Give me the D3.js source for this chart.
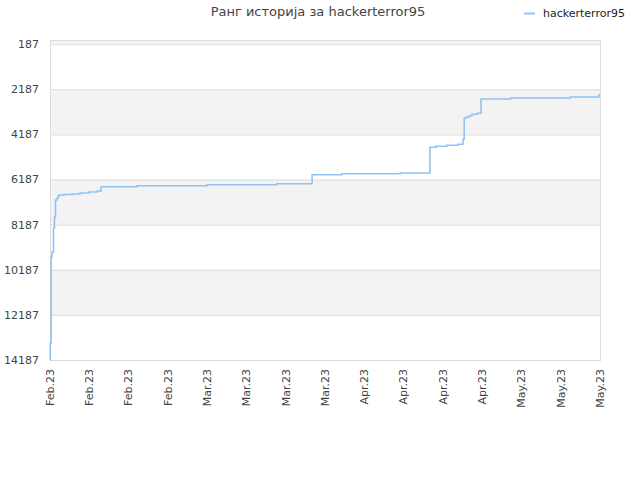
<!DOCTYPE html>
<html lang="en">
<head>
  <meta charset="UTF-8">
  <style>
    html, body { margin: 0; padding: 0; background: #fff; }
    svg { display: block; font-family: "DejaVu Sans", sans-serif; }
    .title { font-size: 13px; fill: #444; text-anchor: middle; }
    .legend-text { font-size: 11px; fill: #222; }
    .y-label { font-size: 11px; fill: #444; text-anchor: end; }
    .x-label { font-size: 11px; fill: #444; text-anchor: end; }
  </style>
  <script src="https://d3js.org/d3.v7.min.js"></script>
</head>
<body>
  <svg width="640" height="480" id="chart"></svg>

  <script>
    // Player name and title
    const player = "hackerterror95";
    const title = "Ранг историја за " + player;

    // Steps of the rank line: days since the first tick, and rank from then on
    const dayOffsets = [0, 0.05, 0.2, 0.36, 0.62, 0.8, 0.98, 1.25, 1.43, 1.6,
                        2.5, 3.9, 5.35, 6.95, 8.4, 9.1, 15.5, 28, 40.4, 46.7,
                        52, 62.4, 67.7, 68.8, 70.7, 72.7, 73.6, 73.8, 74.1, 74.7,
                        75.2, 76.1, 76.8, 82.1, 92.7, 97.8, 98];
    const ranks = [14187, 13430, 9620, 9399, 8335, 7847, 7093, 7005, 6916, 6872,
                   6850, 6827, 6783, 6739, 6694, 6504, 6460, 6415, 6371, 5972,
                   5927, 5896, 4757, 4713, 4668, 4624, 4389, 3471, 3414, 3356,
                   3294, 3250, 2616, 2571, 2527, 2438, 2438];

    // Axis ticks
    const yTicks = [187, 2187, 4187, 6187, 8187, 10187, 12187, 14187];
    const xTickLabels = ["Feb.23", "Feb.23", "Feb.23", "Feb.23",
                         "Mar.23", "Mar.23", "Mar.23", "Mar.23",
                         "Apr.23", "Apr.23", "Apr.23", "Apr.23",
                         "May.23", "May.23", "May.23"];
    const xTickDays = [0, 7, 14, 21, 28, 35, 42, 49, 56, 63, 70, 77, 84, 91, 98];

    const plotL = 50, plotR = 600, plotT = 40, plotB = 360;
    const svg = d3.select("#chart");

    const x = d3.scaleLinear().domain([0, 98]).range([plotL, plotR]);
    const y = d3.scaleLinear().domain([0, 14187]).range([plotT, plotB]);

    // alternating bands (gray below each odd tick, plus the strip above 187)
    const bands = [[0, 187]];
    for (let i = 1; i < yTicks.length - 1; i += 2) bands.push([yTicks[i], yTicks[i + 1]]);
    svg.selectAll(".band")
      .data(bands)
      .enter()
      .append("rect")
      .attr("x", plotL)
      .attr("width", plotR - plotL)
      .attr("y", d => y(d[0]))
      .attr("height", d => y(d[1]) - y(d[0]))
      .attr("fill", "#f3f3f3");

    // grid lines
    svg.selectAll(".grid")
      .data(yTicks)
      .enter()
      .append("line")
      .attr("x1", plotL).attr("x2", plotR)
      .attr("y1", d => y(d) + 0.5).attr("y2", d => y(d) + 0.5)
      .attr("stroke", "#dcdcdc");

    // frame
    svg.append("rect")
      .attr("x", plotL + 0.5).attr("y", plotT + 0.5)
      .attr("width", plotR - plotL).attr("height", plotB - plotT)
      .attr("fill", "none")
      .attr("stroke", "#dcdcdc");

    // y labels
    svg.selectAll(".y-label")
      .data(yTicks)
      .enter()
      .append("text")
      .attr("class", "y-label")
      .attr("x", plotL - 11)
      .attr("y", d => y(d))
      .attr("dy", "0.35em")
      .text(d => d);

    // x labels, rotated
    svg.selectAll(".x-label")
      .data(xTickDays)
      .enter()
      .append("text")
      .attr("class", "x-label")
      .attr("transform", d => `translate(${x(d)},${plotB + 9}) rotate(-90)`)
      .attr("dy", "0.35em")
      .text((d, i) => xTickLabels[i]);

    // rank line
    const points = dayOffsets.map((d, i) => [d, ranks[i]]);
    const line = d3.line()
      .x(d => x(d[0]))
      .y(d => y(d[1]))
      .curve(d3.curveStepAfter);

    svg.append("path")
      .datum(points)
      .attr("d", line)
      .attr("fill", "none")
      .attr("stroke", "#90c3f3")
      .attr("stroke-width", 1.6);

    // title
    svg.append("text")
      .attr("class", "title")
      .attr("x", 318)
      .attr("y", 16)
      .text(title);

    // legend
    svg.append("line")
      .attr("x1", 524).attr("x2", 535)
      .attr("y1", 13.5).attr("y2", 13.5)
      .attr("stroke", "#90c3f3")
      .attr("stroke-width", 2);
    svg.append("text")
      .attr("class", "legend-text")
      .attr("x", 543)
      .attr("y", 17)
      .text(player);
  </script>
</body>
</html>
